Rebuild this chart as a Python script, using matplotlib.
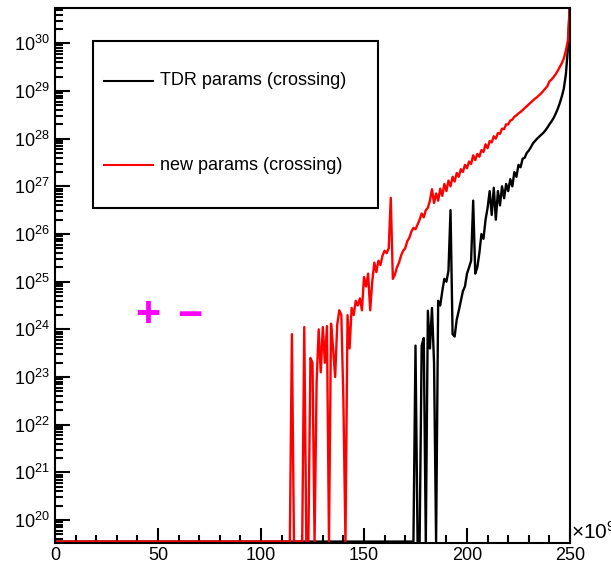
import numpy as np
import matplotlib.pyplot as plt
from matplotlib.ticker import LogLocator, LogFormatterMathtext, MultipleLocator, NullFormatter
from matplotlib.patches import Rectangle

plt.rcParams['font.family'] = ['Liberation Sans', 'DejaVu Sans']
plt.rcParams['mathtext.fontset'] = 'custom'
plt.rcParams['mathtext.rm'] = 'Liberation Sans'
plt.rcParams['mathtext.it'] = 'Liberation Sans:italic'

# bins of 1 (x 1e9), values given as log10, 0 = empty bin (drawn on the floor)
x_bins = np.arange(0, 251)
y_floor = 10**19.55

red_start = 113
red_exp = [0, 0, 23.9, 0, 0, 0, 0, 0, 24.05, 0,
           0, 23.4, 23.3, 0, 22.9, 24.0, 23.1, 24.05, 23.3, 24.07,
           0, 24.12, 23.6, 23.0, 24.1, 24.4, 24.3, 22.5, 0, 24.3,
           23.6, 24.45, 24.3, 24.6, 24.5, 24.65, 24.4, 25.1, 24.9, 25.17,
           24.4, 25.0, 25.4, 25.2, 25.44, 25.35, 25.55, 25.65, 25.6, 25.7,
           26.76, 25.06, 25.15, 25.3, 25.4, 25.55, 25.65, 25.7, 25.85, 25.92,
           26.05, 26.13, 26.1, 26.2, 26.3, 26.43, 26.35, 26.5, 26.55, 26.7,
           26.94, 26.65, 26.85, 26.7, 26.95, 26.8, 27.05, 26.9, 27.12, 27.0,
           27.2, 27.1, 27.28, 27.2, 27.36, 27.3, 27.45, 27.38, 27.52, 27.47,
           27.65, 27.55, 27.68, 27.62, 27.76, 27.72, 27.88, 27.8, 27.95, 27.92,
           28.05, 28.0, 28.12, 28.1, 28.21, 28.2, 28.3, 28.3, 28.38, 28.4,
           28.46, 28.49, 28.53, 28.56, 28.6, 28.64, 28.68, 28.72, 28.76, 28.8,
           28.84, 28.87, 28.91, 28.95, 29.0, 29.05, 29.1, 29.2, 29.24, 29.29,
           29.35, 29.42, 29.5, 29.58, 29.68, 29.85, 30.06, 30.9]

black_start = 173
black_exp = [0, 0, 23.66, 0, 0, 23.66, 23.82, 0, 24.39, 23.6,
             24.45, 23.3, 0, 24.6, 24.5, 24.8, 25.06, 25.0, 25.23, 26.5,
             23.9, 23.85, 24.2, 24.39, 24.6, 24.8, 24.9, 25.17, 25.3, 25.44,
             26.7, 25.17, 25.3, 25.6, 26.0, 25.9, 26.3, 26.55, 26.9, 26.4,
             26.97, 26.3, 26.9, 26.6, 27.0, 26.75, 27.05, 26.9, 27.15, 27.0,
             27.3, 27.2, 27.45, 27.4, 27.58, 27.6, 27.7, 27.75, 27.82, 27.9,
             27.95, 28.0, 28.04, 28.08, 28.12, 28.17, 28.23, 28.3, 28.36, 28.43,
             28.52, 28.62, 28.74, 28.88, 29.05, 29.35, 29.9, 30.9]

labels = ['TDR params (crossing)', 'new params (crossing)']


def fill_bins(start, exps):
    vals = np.full(len(x_bins), y_floor)
    for i, e in enumerate(exps):
        if e > 0:
            vals[start + i] = 10**e
    return vals


y_black = fill_bins(black_start, black_exp)
y_red = fill_bins(red_start, red_exp)

fig = plt.figure(figsize=(6.11, 5.71), dpi=100)
ax = fig.add_axes([55/611, 28/571, 515/611, 535/571])

ax.plot(x_bins, y_black, color='black', lw=1.7)
ax.plot(x_bins, y_red, color='red', lw=1.7)

ax.set_yscale('log')
ax.set_xlim(0, 250)
ax.set_ylim(10**19.52, 10**30.74)

ax.xaxis.set_major_locator(MultipleLocator(50))
ax.xaxis.set_minor_locator(MultipleLocator(10))
ax.yaxis.set_major_locator(LogLocator(base=10, numticks=20))
ax.yaxis.set_minor_locator(LogLocator(base=10, subs=np.arange(2, 10), numticks=20))
ax.yaxis.set_major_formatter(LogFormatterMathtext())
ax.yaxis.set_minor_formatter(NullFormatter())

ax.tick_params(which='both', direction='in', top=False, right=False, width=1.5, labelsize=13)
ax.tick_params(which='major', length=11)
ax.tick_params(which='minor', length=6)
ax.tick_params(axis='y', pad=4)
ax.tick_params(axis='x', pad=3)
for s in ax.spines.values():
    s.set_linewidth(1.5)

# legend box drawn by hand
ax.add_patch(Rectangle((0.074, 0.626), 0.553, 0.312, transform=ax.transAxes,
                       fill=False, edgecolor='black', lw=1.5, zorder=5))
for yy, col, lab in [(0.8636, 'black', labels[0]), (0.7065, 'red', labels[1])]:
    ax.plot([0.095, 0.190], [yy, yy], color=col, lw=1.5, transform=ax.transAxes, zorder=6)
    ax.text(0.204, yy, lab, transform=ax.transAxes, fontsize=13, va='center', ha='left', zorder=6)

ax.text(0.180, 0.426, '+', transform=ax.transAxes, fontsize=31, fontweight='bold',
        color='#ff00ff', ha='center', va='center')
ax.text(0.262, 0.422, '\u2212', transform=ax.transAxes, fontsize=31, fontweight='bold',
        color='#ff00ff', ha='center', va='center')

ax.annotate(r'$\times10^{9}$', xy=(1, 0), xycoords='axes fraction', xytext=(1, 0),
            textcoords='offset points', fontsize=15, ha='left', va='bottom',
            annotation_clip=False)

fig.savefig('out.png', dpi=100)
